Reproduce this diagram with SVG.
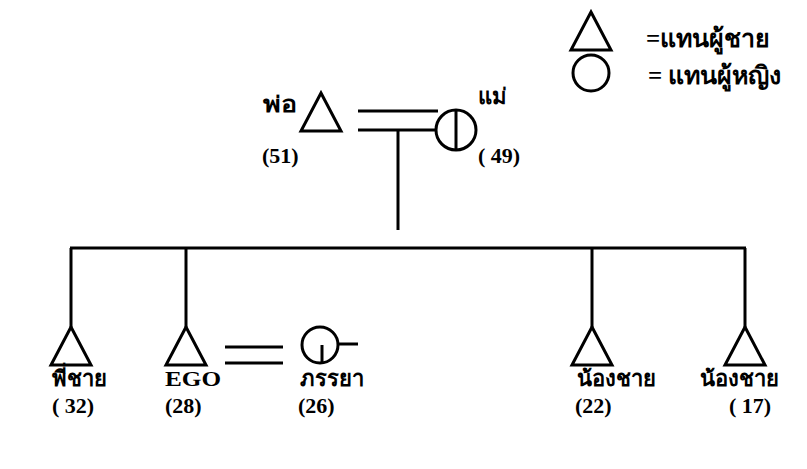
<svg xmlns="http://www.w3.org/2000/svg" width="807" height="469" viewBox="0 0 807 469">
<style>
.s{fill:none;stroke:#000;stroke-width:3;stroke-linecap:butt}
.t{font-family:"Liberation Serif","Times New Roman",serif;font-weight:bold;font-size:22px;fill:#000}
.l{font-size:25px}
</style>
<rect width="807" height="469" fill="#fff"/>
<defs>
<path id="tri" d="M0,0 L20,38 L-20,38 Z"/>
</defs>
<g id="legend">
<use href="#tri" x="591" y="12" class="s"/>
<text class="t l" x="646" y="47">=แทนผู้ชาย</text>
<circle cx="591" cy="73" r="18" class="s"/>
<text class="t l" x="648" y="84">= แทนผู้หญิง</text>
</g>
<g id="connectors">
<line class="s" x1="358" y1="111" x2="438" y2="111"/>
<line class="s" x1="358" y1="130" x2="436" y2="130"/>
<line class="s" x1="398" y1="130" x2="398" y2="230"/>
<line class="s" x1="70" y1="248" x2="746" y2="248"/>
<line class="s" x1="71" y1="248" x2="71" y2="327"/>
<line class="s" x1="186" y1="248" x2="186" y2="327"/>
<line class="s" x1="592" y1="248" x2="592" y2="327"/>
<line class="s" x1="745" y1="248" x2="745" y2="327"/>
<line class="s" x1="225" y1="347" x2="283" y2="347"/>
<line class="s" x1="225" y1="363" x2="283" y2="363"/>
</g>
<g id="father">
<use href="#tri" x="321" y="93" class="s"/>
<text class="t" x="263" y="112" textLength="34" lengthAdjust="spacingAndGlyphs">พ่อ</text>
<text class="t" x="262" y="163">(51)</text>
</g>
<g id="mother">
<circle cx="456" cy="130" r="20" class="s"/>
<line class="s" x1="456" y1="110" x2="456" y2="150"/>
<text class="t" x="478" y="104">แม่</text>
<text class="t" x="478" y="163">( 49)</text>
</g>
<g id="elder-brother">
<use href="#tri" x="71" y="327" class="s"/>
<text class="t" x="52" y="386">พี่ชาย</text>
<text class="t" x="52" y="413">( 32)</text>
</g>
<g id="ego">
<use href="#tri" x="186" y="327" class="s"/>
<text class="t" x="165" y="386" textLength="56" lengthAdjust="spacingAndGlyphs">EGO</text>
<text class="t" x="165" y="413">(28)</text>
</g>
<g id="wife">
<circle cx="320" cy="345" r="18" class="s"/>
<line class="s" x1="322" y1="345" x2="322" y2="363"/>
<line class="s" x1="338" y1="344" x2="358" y2="344"/>
<text class="t" x="300" y="386">ภรรยา</text>
<text class="t" x="298" y="413">(26)</text>
</g>
<g id="younger-brother-1">
<use href="#tri" x="592" y="327" class="s"/>
<text class="t" x="577" y="386">น้องชาย</text>
<text class="t" x="575" y="413">(22)</text>
</g>
<g id="younger-brother-2">
<use href="#tri" x="745" y="327" class="s"/>
<text class="t" x="700" y="386">น้องชาย</text>
<text class="t" x="729" y="413">( 17)</text>
</g>
</svg>
